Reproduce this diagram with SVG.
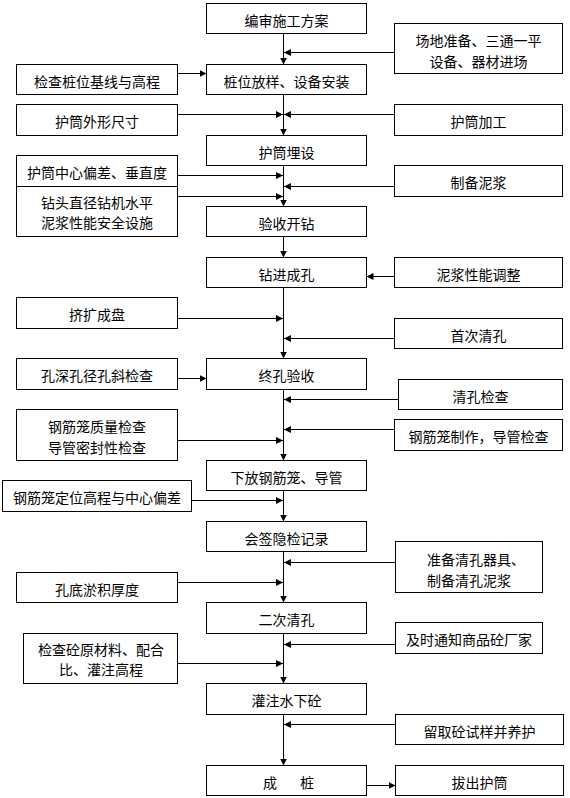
<svg xmlns="http://www.w3.org/2000/svg" width="570" height="798" viewBox="0 0 570 798">
<style>
.box{fill:#fff;stroke:#000;stroke-width:1}
.t{font-family:"Noto Sans CJK SC","Noto Sans CJK TC",sans-serif;font-size:14px;fill:#000;text-anchor:middle;dominant-baseline:central}
.ts{font-family:"Noto Sans CJK SC","Noto Sans CJK TC",sans-serif;font-size:14px;fill:#000;text-anchor:start;dominant-baseline:central}
.ln{stroke:#000;stroke-width:1;fill:none;marker-end:url(#ah)}
.pl{stroke:#000;stroke-width:1;fill:none}
</style>
<defs>
<marker id="ah" markerWidth="7" markerHeight="7" refX="7" refY="3.5" orient="auto" markerUnits="userSpaceOnUse"><path d="M0,0 L7,3.5 L0,7 z" fill="#000"/></marker>
</defs>
<rect x="0" y="0" width="570" height="798" fill="#fff"/>

<g id="connectors">
<!-- main vertical -->
<line class="ln" x1="283.5" y1="33.5" x2="283.5" y2="64.5"/>
<line class="ln" x1="283.5" y1="94.5" x2="283.5" y2="135.5"/>
<line class="ln" x1="283.5" y1="165.5" x2="283.5" y2="206.5"/>
<line class="ln" x1="283.5" y1="236.5" x2="283.5" y2="257.5"/>
<line class="ln" x1="283.5" y1="287.5" x2="283.5" y2="358.5"/>
<line class="ln" x1="283.5" y1="389.5" x2="283.5" y2="460.5"/>
<line class="ln" x1="283.5" y1="490.5" x2="283.5" y2="521.5"/>
<line class="ln" x1="283.5" y1="551.5" x2="283.5" y2="602.5"/>
<line class="ln" x1="283.5" y1="633.5" x2="283.5" y2="683.5"/>
<line class="ln" x1="283.5" y1="714.5" x2="283.5" y2="765.5"/>
<!-- side inputs -->
<line class="ln" x1="394.5" y1="52.5" x2="284" y2="52.5"/>
<line class="ln" x1="177.5" y1="73.5" x2="206.5" y2="73.5"/>
<line class="ln" x1="177.5" y1="114.5" x2="283" y2="114.5"/>
<line class="ln" x1="394.5" y1="114.5" x2="284" y2="114.5"/>
<line class="ln" x1="177.5" y1="175.5" x2="283" y2="175.5"/>
<line class="ln" x1="394.5" y1="186.5" x2="284" y2="186.5"/>
<line class="ln" x1="177.5" y1="196.5" x2="283" y2="196.5"/>
<line class="ln" x1="394.5" y1="276.5" x2="366.5" y2="276.5"/>
<line class="ln" x1="177.5" y1="318.5" x2="283" y2="318.5"/>
<line class="ln" x1="394.5" y1="338.5" x2="284" y2="338.5"/>
<line class="ln" x1="177.5" y1="378.5" x2="206.5" y2="378.5"/>
<line class="ln" x1="398.5" y1="399.5" x2="284" y2="399.5"/>
<line class="ln" x1="394.5" y1="429.5" x2="284" y2="429.5"/>
<line class="ln" x1="177.5" y1="440.5" x2="283" y2="440.5"/>
<line class="ln" x1="191.5" y1="500.5" x2="283" y2="500.5"/>
<line class="ln" x1="395.5" y1="562.5" x2="284" y2="562.5"/>
<line class="ln" x1="177.5" y1="582.5" x2="283" y2="582.5"/>
<line class="ln" x1="395.5" y1="644.5" x2="284" y2="644.5"/>
<line class="ln" x1="177.5" y1="663.5" x2="283" y2="663.5"/>
<line class="ln" x1="395.5" y1="724.5" x2="284" y2="724.5"/>
<line class="ln" x1="366.5" y1="785.5" x2="395.5" y2="785.5"/>
</g>

<!-- main column -->
<g id="n1"><rect class="box" x="206.5" y="3.5" width="160" height="30"/><text class="t" x="286.5" y="19.5">编审施工方案</text></g>
<g id="n2"><rect class="box" x="206.5" y="64.5" width="160" height="30"/><text class="t" x="286.5" y="80.5">桩位放样、设备安装</text></g>
<g id="n3"><rect class="box" x="206.5" y="135.5" width="160" height="30"/><text class="t" x="286.5" y="151.5">护筒埋设</text></g>
<g id="n4"><rect class="box" x="206.5" y="206.5" width="160" height="30"/><text class="t" x="286.5" y="222.5">验收开钻</text></g>
<g id="n5"><rect class="box" x="206.5" y="257.5" width="160" height="30"/><text class="t" x="286.5" y="273.5">钻进成孔</text></g>
<g id="n6"><rect class="box" x="206.5" y="358.5" width="160" height="31"/><text class="t" x="286.5" y="375">终孔验收</text></g>
<g id="n7"><rect class="box" x="206.5" y="460.5" width="160" height="30"/><text class="t" x="286.5" y="476.5">下放钢筋笼、导管</text></g>
<g id="n8"><rect class="box" x="206.5" y="521.5" width="160" height="30"/><text class="t" x="286.5" y="537.5">会签隐检记录</text></g>
<g id="n9"><rect class="box" x="206.5" y="602.5" width="160" height="31"/><text class="t" x="286.5" y="619">二次清孔</text></g>
<g id="n10"><rect class="box" x="206.5" y="683.5" width="160" height="31"/><text class="t" x="286.5" y="700">灌注水下砼</text></g>
<g id="n11"><rect class="box" x="206.5" y="765.5" width="160" height="30"/><text class="t" y="781.5"><tspan x="270">成</tspan><tspan x="307">桩</tspan></text></g>

<!-- left column -->
<g id="l1"><rect class="box" x="16.5" y="64.5" width="161" height="30"/><text class="t" x="97" y="80.5">检查桩位基线与高程</text></g>
<g id="l2"><rect class="box" x="16.5" y="104.5" width="161" height="31"/><text class="t" x="97" y="121">护筒外形尺寸</text></g>
<g id="l3"><rect class="box" x="16.5" y="155.5" width="161" height="81"/><line class="pl" x1="16.5" y1="186.5" x2="177.5" y2="186.5"/><text class="t" x="97" y="172">护筒中心偏差、垂直度</text><text class="t" x="97"><tspan x="97" y="202">钻头直径钻机水平</tspan><tspan x="97" y="222">泥浆性能安全设施</tspan></text></g>
<g id="l4"><rect class="box" x="16.5" y="297.5" width="161" height="31"/><text class="t" x="97" y="314">挤扩成盘</text></g>
<g id="l5"><rect class="box" x="16.5" y="358.5" width="161" height="31"/><text class="t" x="97" y="375">孔深孔径孔斜检查</text></g>
<g id="l6"><rect class="box" x="16.5" y="409.5" width="161" height="51"/><text class="t"><tspan x="97" y="426">钢筋笼质量检查</tspan><tspan x="97" y="447">导管密封性检查</tspan></text></g>
<g id="l7"><rect class="box" x="2.5" y="480.5" width="189" height="31"/><text class="t" x="97" y="497">钢筋笼定位高程与中心偏差</text></g>
<g id="l8"><rect class="box" x="16.5" y="572.5" width="161" height="30"/><text class="t" x="97" y="588.5">孔底淤积厚度</text></g>
<g id="l9"><rect class="box" x="23.5" y="633.5" width="154" height="50"/><text class="t"><tspan x="101" y="648.5">检查砼原材料、配合</tspan><tspan x="101" y="669">比、灌注高程</tspan></text></g>

<!-- right column -->
<g id="r1"><rect class="box" x="394.5" y="23.5" width="168" height="50"/><text class="t"><tspan x="478.5" y="39.5">场地准备、三通一平</tspan><tspan x="478.5" y="61">设备、器材进场</tspan></text></g>
<g id="r2"><rect class="box" x="394.5" y="104.5" width="168" height="31"/><text class="t" x="478.5" y="121">护筒加工</text></g>
<g id="r3"><rect class="box" x="394.5" y="165.5" width="168" height="31"/><text class="t" x="478.5" y="182">制备泥浆</text></g>
<g id="r4"><rect class="box" x="394.5" y="257.5" width="168" height="30"/><text class="t" x="478.5" y="273.5">泥浆性能调整</text></g>
<g id="r5"><rect class="box" x="394.5" y="318.5" width="168" height="30"/><text class="t" x="478.5" y="334.5">首次清孔</text></g>
<g id="r6"><rect class="box" x="398.5" y="379.5" width="164" height="30"/><text class="t" x="480.5" y="395.5">清孔检查</text></g>
<g id="r7"><rect class="box" x="394.5" y="419.5" width="168" height="31"/><text class="t" x="478.5" y="436">钢筋笼制作，导管检查</text></g>
<g id="r8"><rect class="box" x="395.5" y="541.5" width="147" height="51"/><text class="ts"><tspan x="427" y="558.5">准备清孔器具、</tspan><tspan x="427" y="580">制备清孔泥浆</tspan></text></g>
<g id="r9"><rect class="box" x="395.5" y="622.5" width="147" height="31"/><text class="t" x="469" y="639">及时通知商品砼厂家</text></g>
<g id="r10"><rect class="box" x="395.5" y="714.5" width="168" height="30"/><text class="t" x="479.5" y="730.5">留取砼试样并养护</text></g>
<g id="r11"><rect class="box" x="395.5" y="765.5" width="168" height="30"/><text class="t" x="479.5" y="781.5">拔出护筒</text></g>
</svg>
